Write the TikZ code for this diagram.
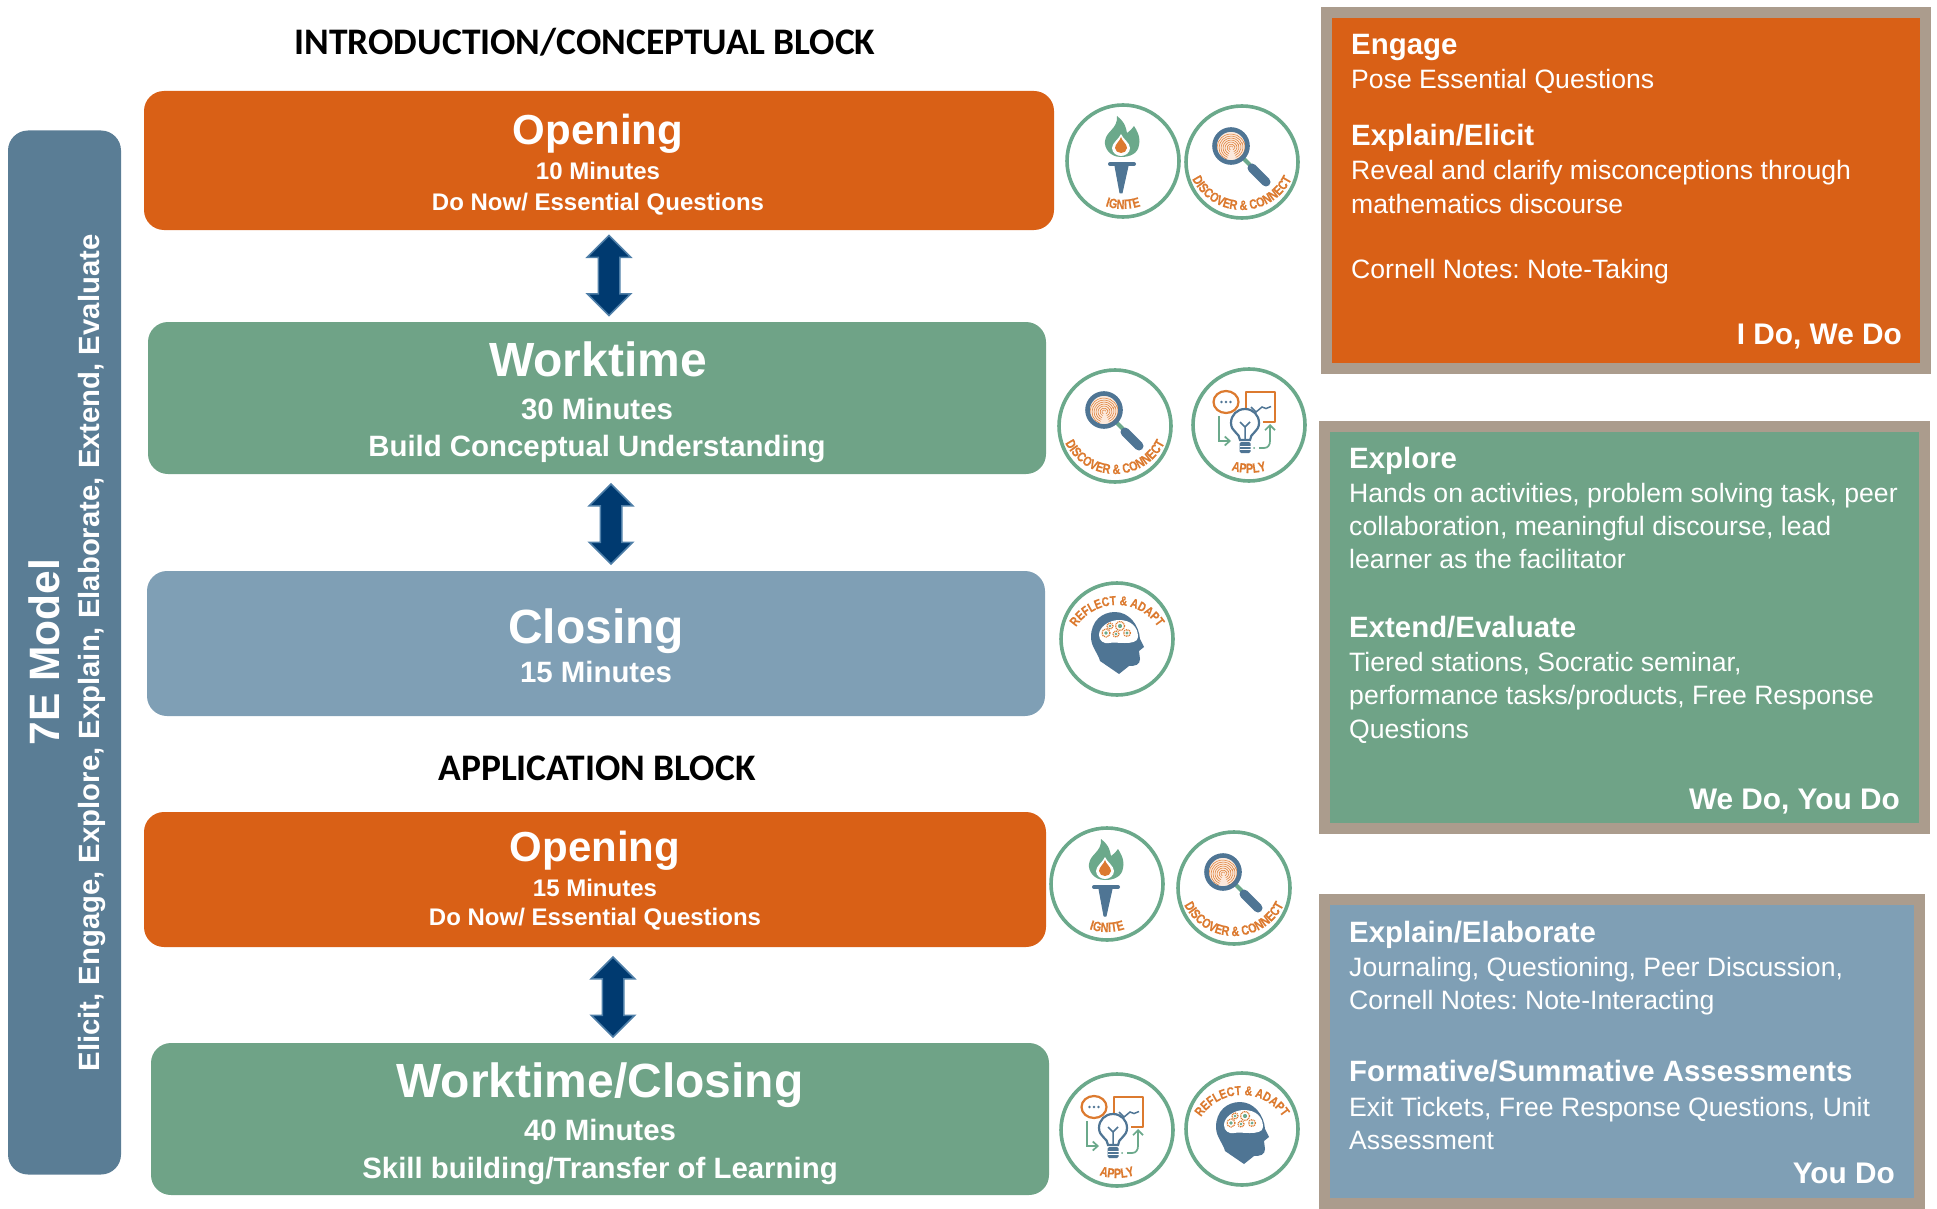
\documentclass[tikz,border=0pt]{standalone}
\usepackage{fontspec}
\setmainfont{Liberation Sans}
\newfontfamily\headfont{Carlito}
\newfontfamily\condfont[FakeStretch=0.8,FakeBold=0.25]{Liberation Sans Bold}
\usetikzlibrary{shapes.arrows,decorations.text,arrows.meta}
\definecolor{cOrange}{HTML}{D96016}
\definecolor{cGreen}{HTML}{6FA387}
\definecolor{cBlue}{HTML}{7F9FB5}
\definecolor{cBar}{HTML}{5A7D95}
\definecolor{cTaupe}{HTML}{AB9C8D}
\definecolor{iGreen}{HTML}{6BA98B}
\definecolor{iBlue}{HTML}{4F7594}
\definecolor{iOrange}{HTML}{DC7A2F}
\definecolor{iPeach}{HTML}{FCE9DC}
\definecolor{aDark}{HTML}{003A70}
\definecolor{aEdge}{HTML}{4F7FA8}
\newcommand\fs[1]{\fontsize{#1}{#1}\selectfont\frenchspacing}
\newcommand\bottomtext[1]{\path[decorate,decoration={text along path,text align=center,text={|\condfont\fontsize{13.5}{13.5}\selectfont\color{iOrange}|#1}}] (0,7.5)++(190:55.5) arc[start angle=190,end angle=350,radius=55.5];}
\newcommand\toptext[1]{\path[decorate,decoration={text along path,text align=center,text={|\condfont\fontsize{13}{13}\selectfont\color{iOrange}|#1}}] (0,-15)++(165:49) arc[start angle=165,end angle=15,radius=49];}
\newcommand\gearico[3]{\draw[iOrange,line width=1.3pt,dash pattern=on 1pt off 0.8pt,fill=white] (#1,#2) circle (#3);\fill[iGreen] (#1,#2) circle (#3*0.45);}
\tikzset{
 x=1pt,y=1pt,
 box/.style={rounded corners=20pt,inner sep=0pt,outer sep=0pt},
 panel/.style={draw=cTaupe,line width=11pt,inner sep=0pt,outer sep=0pt},
 badge/.style={draw=iGreen,line width=3.6pt,fill=white},
 whitebig/.style={text=white,font=\bfseries\fs{42},anchor=base,inner sep=0pt},
 whitesub/.style={text=white,font=\bfseries\fs{24},anchor=base,inner sep=0pt},
 whitemid/.style={text=white,font=\bfseries\fs{29.4},anchor=base,inner sep=0pt},
 whitehuge/.style={text=white,font=\bfseries\fs{48},anchor=base,inner sep=0pt},
 blockhead/.style={font=\headfont\bfseries\fs{37.5},anchor=base,inner sep=0pt},
 dbl/.style={shape=double arrow,rotate=90,fill=aDark,draw=aEdge,line width=1.5pt,minimum height=80pt,double arrow head extend=11pt,inner xsep=0pt,inner ysep=10pt},
 ph/.style={text=white,font=\bfseries\fs{29.4},anchor=base west,inner sep=0pt},
 pb/.style={text=white,font=\fs{26.6},anchor=base west,inner sep=0pt},
 pr/.style={text=white,font=\bfseries\fs{29.8},anchor=base east,inner sep=0pt},
 pics/ignite/.style={code={
  \draw[badge] (0,0) circle (56);
  \fill[iGreen] (-2,4) .. controls (-14,4) and (-19,14) .. (-18,20) .. controls (-17,30) and (-5,32) .. (-6,45) .. controls (3,38) and (3,32) .. (4,28) .. controls (7,30) and (9,32) .. (11,35) .. controls (17,26) and (17,20) .. (16,16) .. controls (15,8) and (8,4) .. (-2,4) -- cycle;
  \fill[white] (-2,27) .. controls (-4,22) and (-11,18) .. (-11,13) .. controls (-11,8) and (-6,5) .. (-2,5) .. controls (2,5) and (7,8) .. (7,13) .. controls (7,18) and (0,22) .. (-2,27) -- cycle;
  \fill[iOrange] (-2,24) .. controls (-3,20) and (-8,17) .. (-8,13) .. controls (-8,10) and (-5,8) .. (-2,8) .. controls (1,8) and (4,10) .. (4,13) .. controls (4,17) and (-1,20) .. (-2,24) -- cycle;
  \draw[iBlue,line width=4pt,line cap=round] (-13,-3) -- (11,-3);
  \fill[iBlue,draw=iBlue,line width=1pt,line join=round] (-8,-5) -- (5,-5) -- (-1,-32) -- (-3,-32) -- cycle;
  \bottomtext{IGNITE}
 }},
 pics/discover/.style={code={
  \draw[badge] (0,0) circle (56);
  \draw[iGreen,line width=4pt] (1,4) -- (8,-3);
  \draw[iBlue,line width=9pt,line cap=round] (10,-6) -- (24,-20);
  \fill[iPeach] (-11,16) circle (16);
  \begin{scope}
   \clip (-11,16) circle (15);
   \foreach \r in {2,4,6,8,10,12,14}
    \draw[iOrange,line width=0.5pt] (-11,14)++(20:\r) arc[start angle=20,end angle=250,radius=\r];
   \foreach \r in {3,5,7,9,11,13}
    \draw[iOrange,line width=0.5pt] (-10,15)++(290:\r) arc[start angle=290,end angle=385,radius=\r];
  \end{scope}
  \draw[iBlue,line width=4.6pt] (-11,16) circle (16.5);
  \bottomtext{DISCOVER {\&} CONNECT}
 }},
 pics/applyicon/.style={code={
  \draw[badge] (0,0) circle (56);
  \draw[iOrange,line width=2.2pt,line join=round] (-3,15) -- (-3,33) -- (26,33) -- (26,3) -- (14,3);
  \draw[iBlue,line width=1.5pt] (2,18) -- (7,13) -- (13,18) -- (17,16.5) -- (22,18.5);
  \draw[iOrange,line width=2.2pt] (-23,23) ellipse [x radius=12.5,y radius=11];
  \foreach \k in {-27.5,-23,-18.5} \fill[iBlue] (\k,23) circle (1.3);
  \draw[iGreen,line width=1.7pt,-{Straight Barb[length=5pt,width=9pt]}] (-30,9) -- (-30,-16) -- (-18,-16);
  \draw[iGreen,line width=1.7pt,-{Straight Barb[length=5pt,width=10pt]}] (10,-23) -- (15,-23) .. controls (19,-23) and (21,-20) .. (21,-16) -- (21,1);
  \fill[iGreen] (5,-23) circle (1);
  \draw[iBlue,line width=2.2pt,fill=white] (-9,-15) .. controls (-9,-8) and (-18,-7) .. (-18,2) .. controls (-18,10) and (-12,16) .. (-4,16) .. controls (4,16) and (10,10) .. (10,2) .. controls (10,-7) and (1,-8) .. (1,-15) -- cycle;
  \draw[iBlue,line width=1.5pt] (-9,3) -- (-4,-2) -- (1,3) (-4,-2) -- (-4,-15);
  \fill[iBlue,rounded corners=1.5pt] (-9.5,-17) rectangle (1.5,-28);
  \draw[white,line width=0.8pt] (-9.5,-21) -- (1.5,-21) (-9.5,-24.5) -- (1.5,-24.5);
  \bottomtext{APPLY}
 }},
 pics/reflect/.style={code={
  \draw[badge] (0,0) circle (56);
  \fill[iBlue] (2,-35) -- (-17,-22) .. controls (-19,-14) and (-26,-8) .. (-26,2) .. controls (-26,18) and (-15,27) .. (-2,27) .. controls (12,27) and (22,14) .. (23,0) -- (27,-8) -- (22,-12) -- (23,-20) .. controls (23,-26) and (18,-27) .. (12,-27) -- cycle;
  \fill[white] (-18,4) .. controls (-18,12) and (-8,19) .. (2,19) .. controls (14,19) and (21,12) .. (21,2) .. controls (21,-3) and (14,-4) .. (8,-4) .. controls (0,-4) and (-3,-3) .. (-8,-4) .. controls (-13,-5) and (-18,-2) .. (-18,4) -- cycle;
  \gearico{-11}{6}{4}\gearico{-7}{13}{3}\gearico{3}{13}{4.6}\gearico{-1}{5}{3}\gearico{10}{6}{3.4}
  \toptext{REFLECT {\&} ADAPT}
 }}
}
\begin{document}
\begin{tikzpicture}
\useasboundingbox (0,0) rectangle (1937,-1209);
% side bar
\node[box,fill=cBar,minimum width=113pt,minimum height=1044pt] (bar) at (64.5,-652.5) {};
\node[text=white,font=\bfseries\fs{42.5},rotate=90,inner sep=0pt] (barA) at (44,-652) {7E Model};
\node[text=white,font=\bfseries\fs{29.3},rotate=90,inner sep=0pt] (barB) at (92,-653) {Elicit, Engage, Explore, Explain, Elaborate, Extend, Evaluate};
% headings
\node[blockhead] (h1) at (585,-55) {INTRODUCTION/CONCEPTUAL BLOCK};
\node[blockhead] (h2) at (597,-780) {APPLICATION BLOCK};
% boxes
\node[box,fill=cOrange,minimum width=910pt,minimum height=139pt] (open1) at (599,-160.5) {};
\node[box,fill=cGreen,minimum width=898pt,minimum height=152pt] (work1) at (597,-398) {};
\node[box,fill=cBlue,minimum width=898pt,minimum height=145pt] (close1) at (596,-643.5) {};
\node[box,fill=cOrange,minimum width=902pt,minimum height=135pt] (open2) at (595,-879.5) {};
\node[box,fill=cGreen,minimum width=898pt,minimum height=152pt] (work2) at (600,-1119) {};
% box texts
\node[whitebig] (o1a) at (598,-145) {Opening};
\node[whitesub] (o1b) at (598,-179) {10 Minutes};
\node[whitesub] (o1c) at (598,-211) {Do Now/ Essential Questions};
\node[whitehuge] (w1a) at (598,-376) {Worktime};
\node[whitemid] (w1b) at (597,-419) {30 Minutes};
\node[whitemid] (w1c) at (597,-456) {Build Conceptual Understanding};
\node[whitehuge] (c1a) at (596,-643) {Closing};
\node[whitemid] (c1b) at (596,-682) {15 Minutes};
\node[whitebig] (o2a) at (595,-861) {Opening};
\node[whitesub] (o2b) at (595,-896) {15 Minutes};
\node[whitesub] (o2c) at (595,-925) {Do Now/ Essential Questions};
\node[whitehuge] (w2a) at (600,-1097) {Worktime/Closing};
\node[whitemid] (w2b) at (600,-1140) {40 Minutes};
\node[whitemid] (w2c) at (600,-1178) {Skill building/Transfer of Learning};
% arrows
\node[dbl] (a1) at (609,-275.5) {};
\node[dbl] (a2) at (611,-524) {};
\node[dbl] (a3) at (613,-997) {};
% icons
\pic (i1) at (1123,-161) {ignite};
\pic (i2) at (1242,-162) {discover};
\pic (i3) at (1115,-426) {discover};
\pic (i4) at (1249,-425) {applyicon};
\pic (i5) at (1117,-639) {reflect};
\pic (i6) at (1107,-884) {ignite};
\pic (i7) at (1234,-888) {discover};
\pic (i8) at (1117,-1130) {applyicon};
\pic (i9) at (1242,-1129) {reflect};
% panels
\node[panel,fill=cOrange,minimum width=599pt,minimum height=356pt] (p1) at (1625.5,-190.5) {};
\node[panel,fill=cGreen,minimum width=600pt,minimum height=402pt] (p2) at (1624.5,-627.5) {};
\node[panel,fill=cBlue,minimum width=595pt,minimum height=304pt] (p3) at (1622,-1051.5) {};
% panel 1 text
\node[ph] (t1) at (1351,-55) {Engage};
\node[pb] (t2) at (1351,-89) {Pose Essential Questions};
\node[ph] (t3) at (1351,-146) {Explain/Elicit};
\node[pb] (t4) at (1351,-180) {Reveal and clarify misconceptions through};
\node[pb] (t5) at (1351,-213) {mathematics discourse};
\node[pb] (t6) at (1351,-278) {Cornell Notes: Note-Taking};
\node[pr] (t7) at (1902,-344) {I Do, We Do};
% panel 2 text
\node[ph] (u1) at (1349,-468) {Explore};
\node[pb] (u2) at (1349,-502) {Hands on activities, problem solving task, peer};
\node[pb] (u3) at (1349,-535) {collaboration, meaningful discourse, lead};
\node[pb] (u4) at (1349,-568) {learner as the facilitator};
\node[ph] (u5) at (1349,-637) {Extend/Evaluate};
\node[pb] (u6) at (1349,-671) {Tiered stations, Socratic seminar,};
\node[pb] (u7) at (1349,-704) {performance tasks/products, Free Response};
\node[pb] (u8) at (1349,-738) {Questions};
\node[pr] (u9) at (1900,-809) {We Do, You Do};
% panel 3 text
\node[ph] (v1) at (1349,-942) {Explain/Elaborate};
\node[pb] (v2) at (1349,-976) {Journaling, Questioning, Peer Discussion,};
\node[pb] (v3) at (1349,-1009) {Cornell Notes: Note-Interacting};
\node[ph] (v4) at (1349,-1081) {Formative/Summative Assessments};
\node[pb] (v5) at (1349,-1116) {Exit Tickets, Free Response Questions, Unit};
\node[pb] (v6) at (1349,-1149) {Assessment};
\node[pr] (v7) at (1895,-1183) {You Do};
\end{tikzpicture}
\end{document}
